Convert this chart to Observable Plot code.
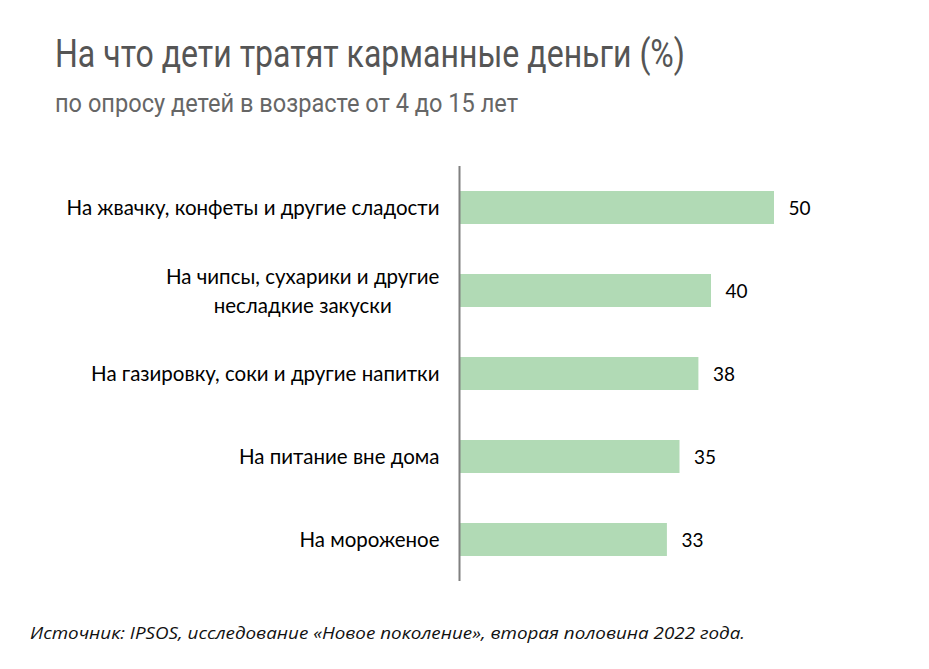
<!DOCTYPE html>
<html><head><meta charset="utf-8">
<script src="https://cdn.jsdelivr.net/npm/d3@7"></script>
<script src="https://cdn.jsdelivr.net/npm/@observablehq/plot@0.6"></script>
<style>
body{margin:0;background:#fff;width:929px;height:669px;position:relative;overflow:hidden}
#title{position:absolute;left:55px;top:32px;font-family:"Roboto",sans-serif;font-size:38px;line-height:44px;color:#555;white-space:nowrap;transform-origin:0 50%}
#subtitle{position:absolute;left:55px;top:89px;font-family:"Roboto",sans-serif;font-size:25px;line-height:30px;color:#666;white-space:nowrap;transform-origin:0 50%}
#chart{position:absolute;left:0;top:150px}
#caption{position:absolute;left:30px;top:622px;font-family:"Open Sans",sans-serif;font-style:italic;font-size:17px;line-height:22px;color:#111;white-space:nowrap;transform-origin:0 50%}
</style>
</head><body>
<div id="title">На что дети тратят карманные деньги (%)</div>
<div id="subtitle">по опросу детей в возрасте от 4 до 15 лет</div>
<div id="chart"></div>
<div id="caption">Источник: IPSOS, исследование «Новое поколение», вторая половина 2022 года.</div>
<script>
const categories = [
  "На жвачку, конфеты и другие сладости",
  "На чипсы, сухарики и другие\nнесладкие закуски",
  "На газировку, соки и другие напитки",
  "На питание вне дома",
  "На мороженое"
];
const values = [50, 40, 38, 35, 33];
const data = categories.map((c, i) => ({category: c, value: values[i]}));

// fit header texts to the reference's condensed widths
function fit(id, target) {
  const el = document.getElementById(id);
  const w = el.getBoundingClientRect().width;
  el.style.transform = `scaleX(${target / w})`;
}
fit("title", 630);
fit("subtitle", 463);
fit("caption", 715);

const plot = Plot.plot({
  width: 929,
  height: 441,
  marginTop: 16,
  marginBottom: 10,
  marginLeft: 459,
  marginRight: 155,
  style: {fontFamily: "Lato, sans-serif", fontSize: "20px", color: "#000", background: "#fff"},
  x: {domain: [0, 50], axis: null},
  y: {domain: categories, paddingInner: 0.6, paddingOuter: 0.3, label: null},
  marks: [
    Plot.barX(data, {x: "value", y: "category", fill: "#b1dab5"}),
    Plot.text(data, {x: "value", y: "category", text: d => String(d.value), textAnchor: "start", dx: 14, dy: 1, fontSize: 19, fill: "#000"}),
    Plot.axisY({tickSize: 0, tickPadding: 20, fontSize: 20.5, fill: "#000", label: null, lineHeight: 1.42, dy: -2}),
    Plot.ruleX([0], {stroke: "#808080", strokeWidth: 2})
  ]
});
document.getElementById("chart").appendChild(plot);

// center multi-line axis labels under their widest line, keeping right edge aligned
plot.querySelectorAll("g[aria-label='y-axis tick label'] text").forEach(t => {
  if (t.querySelectorAll("tspan").length > 1) {
    const w = t.getBBox().width;
    t.setAttribute("text-anchor", "middle");
    t.setAttribute("transform", (t.getAttribute("transform") || "") + ` translate(${-w / 2},0)`);
  }
});
</script>
</body></html>
